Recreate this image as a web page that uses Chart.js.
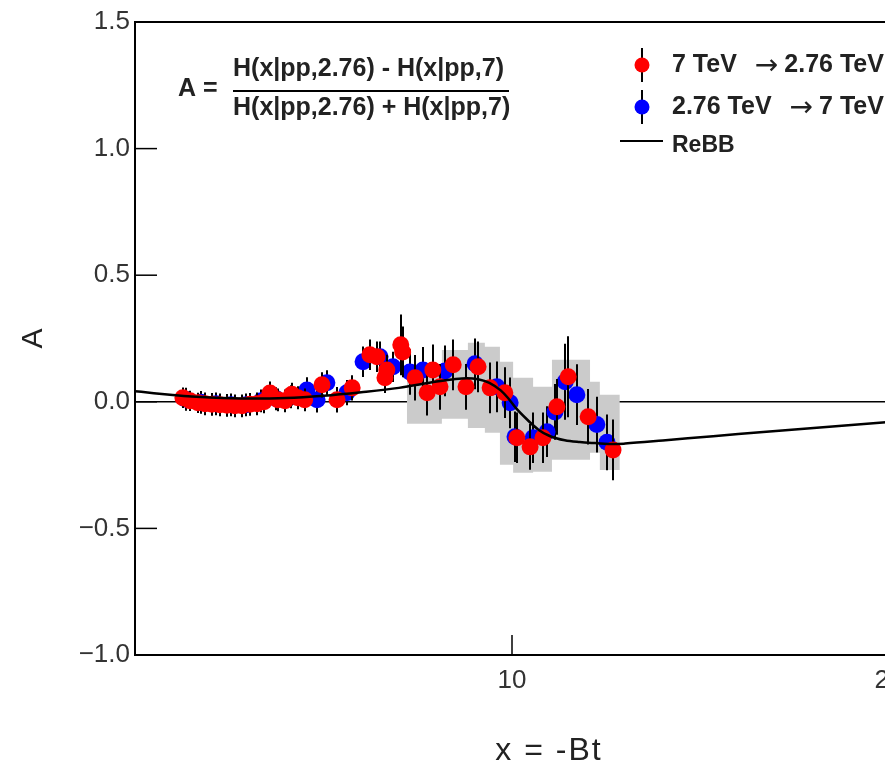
<!DOCTYPE html>
<html>
<head>
<meta charset="utf-8">
<script src="https://cdn.jsdelivr.net/npm/chart.js@4/dist/chart.umd.min.js"></script>
<style>
html, body { margin: 0; padding: 0; background: #fff; overflow: hidden; }
#wrap { width: 905px; height: 770px; }
</style>
</head>
<body>
<div id="wrap"><canvas id="myChart" width="905" height="770"></canvas></div>
<script>
// 7 TeV -> 2.76 TeV (red)
var redX = [1.27, 1.46, 1.67, 1.86, 2.04, 2.25, 2.44, 2.65, 2.84, 3.05, 3.24, 3.42, 3.58, 3.79, 3.98, 4.16, 4.32, 4.50,
            4.96, 5.36, 5.76, 6.23, 6.42, 6.63, 6.68, 7.05, 7.10, 7.43, 7.75, 7.90, 8.09, 8.44, 8.78, 9.10, 9.42, 9.81,
            10.13, 10.48, 10.82, 11.19, 11.49, 12.02, 12.68];
var redY = [0.016, 0.004, -0.004, -0.008, -0.010, -0.012, -0.014, -0.016, -0.016, -0.010, -0.008, 0.000, 0.035, 0.008, 0.004, 0.030, 0.016, 0.008,
            0.067, 0.008, 0.055, 0.186, 0.178, 0.095, 0.126, 0.225, 0.197, 0.095, 0.036, 0.126, 0.059, 0.146, 0.059, 0.138, 0.055, 0.036,
            -0.142, -0.178, -0.142, -0.020, 0.099, -0.059, -0.190];
var redErr = [0.04, 0.04, 0.04, 0.045, 0.045, 0.045, 0.045, 0.045, 0.045, 0.045, 0.045, 0.045, 0.045, 0.045, 0.045, 0.045, 0.045, 0.045,
              0.05, 0.05, 0.05, 0.06, 0.06, 0.06, 0.06, 0.12, 0.10, 0.09, 0.09, 0.10, 0.09, 0.10, 0.09, 0.10, 0.10, 0.10,
              0.10, 0.09, 0.10, 0.11, 0.16, 0.11, 0.12];

// 2.76 TeV -> 7 TeV (blue)
var blueX = [1.35, 1.75, 2.15, 2.55, 2.95, 3.35, 3.75, 4.15, 4.56, 4.83, 5.09, 5.62, 6.05, 6.50, 6.84, 7.29, 7.64, 8.22,
             9.02, 9.60, 9.95, 10.08, 10.56, 10.93, 11.14, 11.41, 11.72, 12.25, 12.52];
var blueY = [0.010, -0.002, -0.008, -0.012, -0.012, 0.004, 0.012, 0.020, 0.047, 0.008, 0.075, 0.036, 0.158, 0.178, 0.138, 0.118, 0.126, 0.122,
             0.150, 0.059, -0.004, -0.138, -0.142, -0.118, -0.040, 0.079, 0.028, -0.090, -0.160];
var blueErr = [0.045, 0.045, 0.045, 0.045, 0.045, 0.045, 0.045, 0.045, 0.05, 0.05, 0.05, 0.05, 0.06, 0.06, 0.06, 0.09, 0.09, 0.10,
               0.10, 0.10, 0.10, 0.10, 0.10, 0.10, 0.11, 0.15, 0.12, 0.11, 0.11];

// ReBB model curve
var curveX = [0, 0.5, 1, 1.5, 2, 3, 4, 5, 6, 7, 8, 8.5, 8.8, 9.1, 9.4, 9.7, 9.9, 10.1, 10.4, 10.7, 11.0, 11.4,
              11.8, 12.2, 12.7, 13, 14, 15, 16, 17, 18, 19, 20];
var curveY = [0.042, 0.034, 0.027, 0.021, 0.017, 0.013, 0.015, 0.024, 0.038, 0.055, 0.080, 0.090, 0.093, 0.089, 0.075, 0.045, 0.014, -0.024, -0.070, -0.110, -0.135, -0.152,
              -0.159, -0.163, -0.167, -0.165, -0.153, -0.140, -0.127, -0.115, -0.103, -0.092, -0.080];

// grey systematic band (bin edges, lower and upper edge per bin)
var bandEdges = [7.21, 8.14, 8.83, 9.28, 9.68, 10.03, 10.56, 11.06, 12.07, 12.33, 12.86];
var bandLow = [-0.087, -0.067, -0.103, -0.122, -0.249, -0.280, -0.276, -0.229, -0.201, -0.269];
var bandHigh = [0.146, 0.205, 0.233, 0.217, 0.158, 0.095, 0.059, 0.166, 0.079, 0.028];

var yTicks = [-1.0, -0.5, 0.0, 0.5, 1.0, 1.5];
var xTicks = [0, 10, 20];

function pts(xs, ys) {
    return xs.map(function(x, i) { return {x: x, y: ys[i]}; });
}
function stepPts(edges, vals) {
    var out = vals.map(function(v, i) { return {x: edges[i], y: v}; });
    out.push({x: edges[edges.length - 1], y: vals[vals.length - 1]});
    return out;
}

var FONT = "'Liberation Sans', Arial, sans-serif";
var errs = {2: blueErr, 3: redErr};

var decorPlugin = {
    id: 'decor',
    beforeDatasetDraw: function(chart, args) {
        var e = errs[args.index];
        if (!e) return;
        var ctx = chart.ctx, xs = chart.scales.x, ys = chart.scales.y;
        var data = chart.data.datasets[args.index].data;
        var a = chart.chartArea;
        ctx.save();
        ctx.beginPath();
        ctx.rect(a.left, a.top, a.right - a.left, a.bottom - a.top);
        ctx.clip();
        ctx.strokeStyle = '#000';
        ctx.lineWidth = 2;
        data.forEach(function(p, i) {
            var px = Math.round(xs.getPixelForValue(p.x));
            ctx.beginPath();
            ctx.moveTo(px, ys.getPixelForValue(p.y - e[i]));
            ctx.lineTo(px, ys.getPixelForValue(p.y + e[i]));
            ctx.stroke();
        });
        ctx.restore();
    },
    afterDraw: function(chart) {
        var ctx = chart.ctx, a = chart.chartArea;
        var xs = chart.scales.x, ys = chart.scales.y;
        ctx.save();
        // frame top + inward ticks
        ctx.strokeStyle = '#000';
        ctx.lineWidth = 2;
        ctx.beginPath();
        ctx.moveTo(a.left, a.top);
        ctx.lineTo(a.right, a.top);
        ctx.lineTo(a.right, a.bottom);
        ctx.stroke();
        ctx.lineWidth = 1.5;
        yTicks.forEach(function(v) {
            var py = ys.getPixelForValue(v);
            ctx.beginPath();
            ctx.moveTo(a.left, py);
            ctx.lineTo(a.left + 22, py);
            ctx.stroke();
        });
        xTicks.forEach(function(v) {
            var px = xs.getPixelForValue(v);
            ctx.beginPath();
            ctx.moveTo(px, a.bottom);
            ctx.lineTo(px, a.bottom - 20);
            ctx.stroke();
        });

        // formula
        ctx.fillStyle = '#222';
        ctx.textBaseline = 'middle';
        ctx.font = 'bold 25px ' + FONT;
        ctx.textAlign = 'left';
        ctx.fillText('A =', 178, 89);
        ctx.fillText('H(x|pp,2.76) - H(x|pp,7)', 233, 69);
        ctx.fillText('H(x|pp,2.76) + H(x|pp,7)', 233, 108);
        ctx.lineWidth = 2;
        ctx.beginPath();
        ctx.moveTo(233, 91);
        ctx.lineTo(509, 91);
        ctx.stroke();

        // legend
        var rows = [
            {c: '#ff0000', a: '7 TeV', b: '2.76 TeV', y: 65},
            {c: '#0000ff', a: '2.76 TeV', b: '7 TeV', y: 107}
        ];
        rows.forEach(function(r) {
            ctx.strokeStyle = '#000';
            ctx.lineWidth = 2;
            ctx.beginPath();
            ctx.moveTo(642, r.y - 17);
            ctx.lineTo(642, r.y + 17);
            ctx.stroke();
            ctx.fillStyle = r.c;
            ctx.beginPath();
            ctx.arc(642, r.y, 7.5, 0, Math.PI * 2);
            ctx.fill();
            ctx.fillStyle = '#222';
            ctx.font = 'bold 25px ' + FONT;
            ctx.fillText(r.a, 672, r.y);
            var w = ctx.measureText(r.a).width;
            ctx.font = "28px 'DejaVu Sans', sans-serif";
            ctx.fillText('\u2192', 672 + w + 18, r.y + 2);
            var aw = ctx.measureText('\u2192').width;
            ctx.font = 'bold 25px ' + FONT;
            ctx.fillText(r.b, 672 + w + 18 + aw + 6, r.y);
        });
        ctx.strokeStyle = '#000';
        ctx.lineWidth = 2;
        ctx.beginPath();
        ctx.moveTo(620, 141);
        ctx.lineTo(663, 141);
        ctx.stroke();
        ctx.font = 'bold 23px ' + FONT;
        ctx.fillText('ReBB', 672, 146);

        // x title
        ctx.font = '32px ' + FONT;
        ctx.fillStyle = '#222';
        ctx.textAlign = 'center';
        ctx.letterSpacing = '2px';
        ctx.fillText('x = -Bt', 549, 751);
        ctx.restore();
    }
};

var chartCanvas = document.getElementById('myChart');
var ctx = chartCanvas.getContext('2d');
var myChart = new Chart(ctx, {
    type: 'scatter',
    data: {
        datasets: [
            {
                label: 'bandLow',
                data: stepPts(bandEdges, bandLow),
                showLine: true,
                stepped: true,
                borderWidth: 0,
                borderColor: 'rgba(0,0,0,0)',
                pointRadius: 0,
                fill: false,
                order: 5
            },
            {
                label: 'bandHigh',
                data: stepPts(bandEdges, bandHigh),
                showLine: true,
                stepped: true,
                borderWidth: 0,
                borderColor: 'rgba(0,0,0,0)',
                backgroundColor: '#cbcbcb',
                pointRadius: 0,
                fill: '-1',
                order: 4
            },
            {
                label: '2.76 TeV \u2192 7 TeV',
                data: pts(blueX, blueY),
                pointRadius: 8.5,
                pointBorderWidth: 0,
                backgroundColor: '#0000ff',
                borderColor: '#0000ff',
                order: 2
            },
            {
                label: '7 TeV \u2192 2.76 TeV',
                data: pts(redX, redY),
                pointRadius: 8.5,
                pointBorderWidth: 0,
                backgroundColor: '#ff0000',
                borderColor: '#ff0000',
                order: 1
            },
            {
                label: 'ReBB',
                data: pts(curveX, curveY),
                showLine: true,
                borderColor: '#000',
                borderWidth: 2.5,
                pointRadius: 0,
                cubicInterpolationMode: 'monotone',
                fill: false,
                order: 0
            }
        ]
    },
    options: {
        responsive: false,
        animation: false,
        events: [],
        layout: { padding: { top: 22, right: 16, left: 0, bottom: 0 } },
        plugins: {
            legend: { display: false },
            tooltip: { enabled: false }
        },
        scales: {
            x: {
                type: 'linear',
                min: 0,
                max: 20,
                afterFit: function(s) { s.height = 115; s.paddingLeft = 0; s.paddingRight = 0; },
                afterBuildTicks: function(s) { s.ticks = xTicks.map(function(v) { return {value: v}; }); },
                ticks: {
                    padding: 10,
                    maxRotation: 0,
                    color: '#333',
                    font: { family: FONT, size: 26 },
                    callback: function(v) { return v === 0 ? '' : String(v); }
                },
                grid: { display: false, drawTicks: false },
                border: { display: true, color: '#000', width: 2 }
            },
            y: {
                min: -1,
                max: 1.5,
                afterFit: function(s) { s.width = 135; s.paddingTop = 0; s.paddingBottom = 0; },
                afterBuildTicks: function(s) { s.ticks = yTicks.map(function(v) { return {value: v}; }); },
                ticks: {
                    padding: 5,
                    color: '#333',
                    font: { family: FONT, size: 26 },
                    callback: function(v) { return v.toFixed(1).replace('-', '\u2212'); }
                },
                grid: {
                    drawTicks: false,
                    lineWidth: 1.5,
                    color: function(c) { return c.tick && c.tick.value === 0 ? '#000' : 'rgba(0,0,0,0)'; }
                },
                border: { display: true, color: '#000', width: 2 },
                title: {
                    display: true,
                    text: 'A',
                    color: '#222',
                    font: { family: FONT, size: 30 },
                    padding: { top: 16, bottom: 0 }
                }
            }
        }
    },
    plugins: [decorPlugin]
});
</script>
</body>
</html>
